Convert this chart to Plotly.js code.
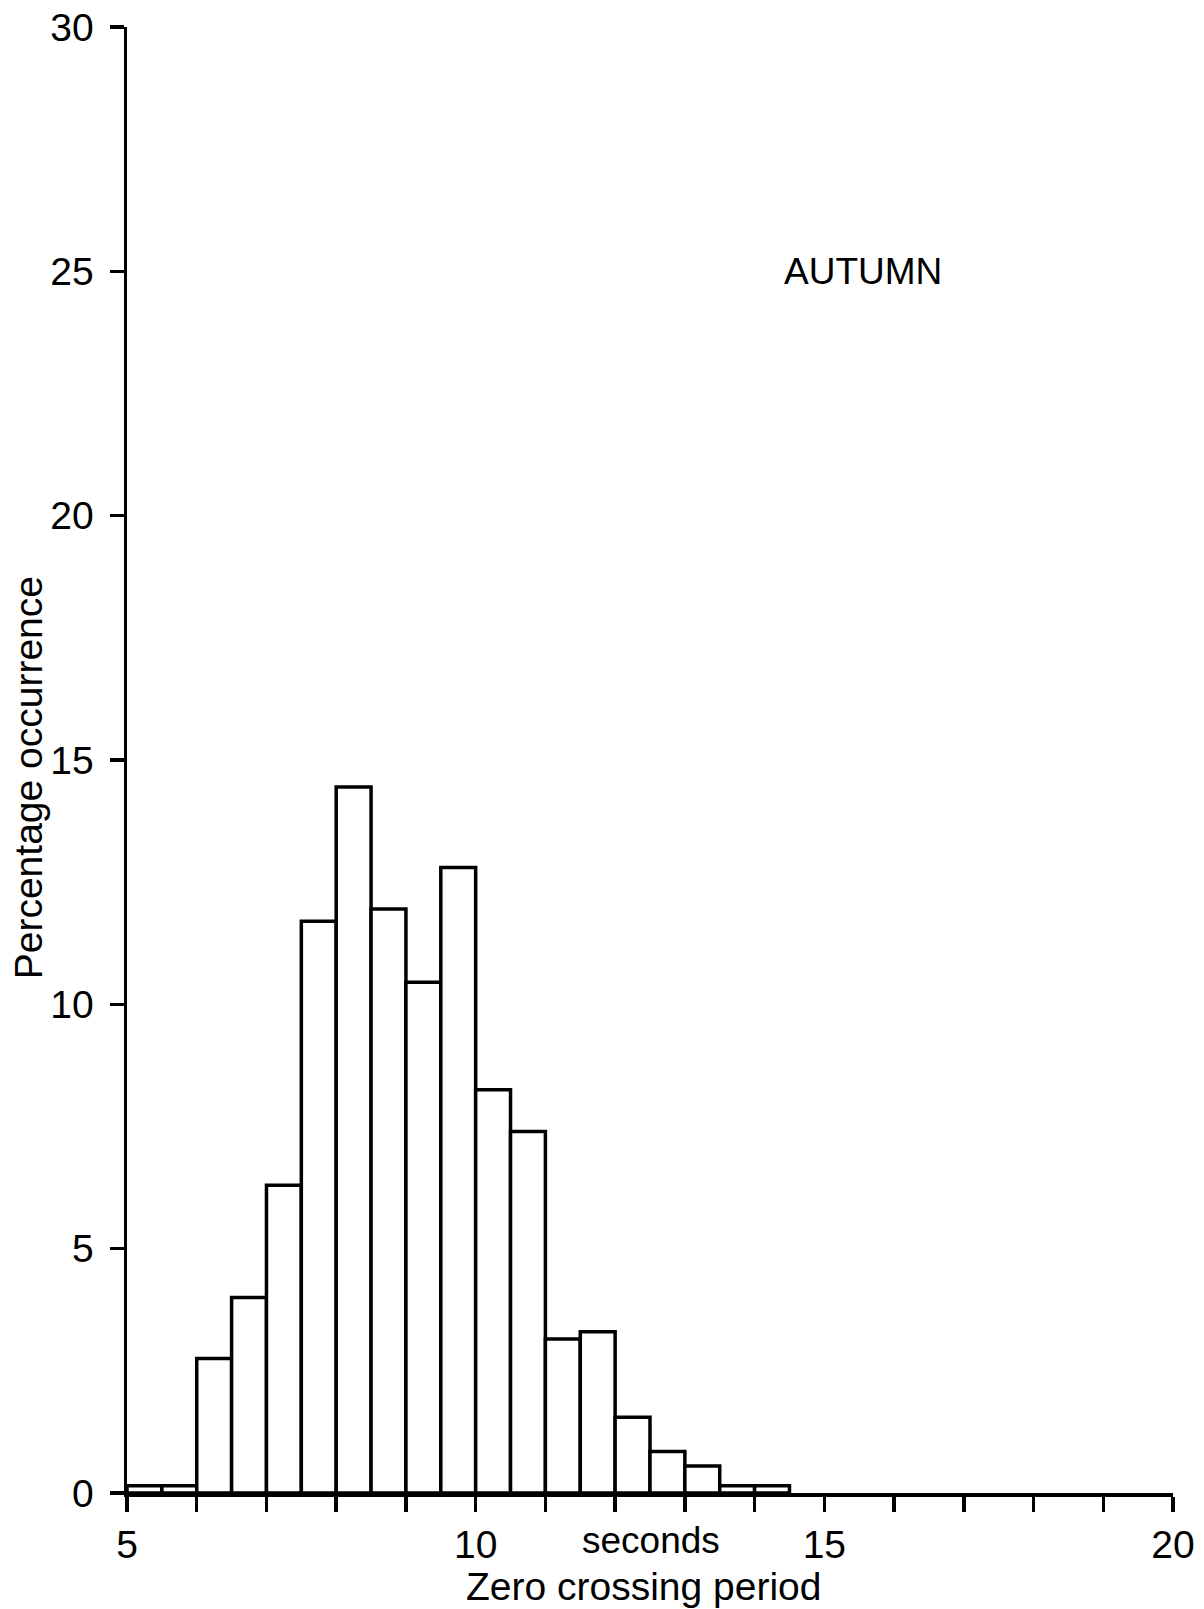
<!DOCTYPE html>
<html>
<head>
<meta charset="utf-8">
<script src="https://cdn.plot.ly/plotly-3.0.1.min.js"></script>
<style>
  html, body { margin: 0; padding: 0; background: #fff; }
  #chart { width: 1204px; height: 1609px; }
</style>
</head>
<body>
<div id="chart"></div>
<script>
// Histogram of zero crossing period, autumn season (0.5 s bins)
const binStarts = [5, 5.5, 6, 6.5, 7, 7.5, 8, 8.5, 9, 9.5, 10, 10.5, 11, 11.5, 12, 12.5, 13, 13.5, 14];
const percentOccurrence = [0.15, 0.15, 2.75, 4.0, 6.3, 11.7, 14.45, 11.95, 10.45, 12.8, 8.25, 7.4, 3.15, 3.3, 1.55, 0.85, 0.55, 0.15, 0.15];
const binWidth = 0.5;

const xTickVals = [5, 6, 7, 8, 9, 10, 11, 12, 13, 14, 15, 16, 17, 18, 19, 20];
const xTickText = ['5', '', '', '', '', '10', '', '', '', '', '15', '', '', '', '', '20'];
const yTickVals = [0, 5, 10, 15, 20, 25, 30];

const FONT = 'Liberation Sans, Arial, Helvetica, sans-serif';
const INK = '#000000';

const trace = {
  type: 'bar',
  x: binStarts.map(b => b + binWidth / 2),
  y: percentOccurrence,
  width: binWidth,
  marker: { color: '#ffffff', line: { color: INK, width: 3.5 } },
  hoverinfo: 'x+y'
};

const layout = {
  width: 1204,
  height: 1609,
  paper_bgcolor: '#ffffff',
  plot_bgcolor: '#ffffff',
  showlegend: false,
  margin: { l: 127, r: 31, t: 27, b: 116 },
  font: { family: FONT, color: INK, size: 39 },
  xaxis: {
    range: [5, 20],
    showgrid: false,
    zeroline: false,
    showline: true,
    linecolor: INK,
    linewidth: 3.5,
    ticks: 'outside',
    ticklen: 15,
    tickwidth: 3.5,
    tickcolor: INK,
    tickvals: xTickVals,
    ticktext: xTickText,
    ticklabelstandoff: 0,
    tickfont: { family: FONT, size: 39, color: INK },
    automargin: false
  },
  yaxis: {
    range: [0, 30],
    showgrid: false,
    zeroline: false,
    showline: true,
    linecolor: INK,
    linewidth: 3.5,
    ticks: 'outside',
    ticklen: 14,
    tickwidth: 3.5,
    tickcolor: INK,
    tickvals: yTickVals,
    ticktext: yTickVals.map(String),
    ticklabelstandoff: 8,
    tickfont: { family: FONT, size: 39, color: INK },
    automargin: false
  },
  annotations: [
    {
      // y-axis title
      text: 'Percentage occurrence', textangle: -90,
      xref: 'paper', yref: 'paper', x: -0.094, y: 0.488,
      xanchor: 'center', yanchor: 'middle', showarrow: false,
      font: { family: FONT, size: 39, color: INK }
    },
    {
      // x-axis title
      text: 'Zero crossing period',
      xref: 'x', yref: 'paper', x: 12.41, y: 0, yshift: -93,
      xanchor: 'center', yanchor: 'middle', showarrow: false,
      font: { family: FONT, size: 39, color: INK }
    },
    {
      text: 'seconds',
      xref: 'x', yref: 'paper', x: 12.52, y: 0, yshift: -47,
      xanchor: 'center', yanchor: 'middle', showarrow: false,
      font: { family: FONT, size: 37, color: INK }
    },
    {
      text: 'AUTUMN',
      xref: 'x', yref: 'y', x: 15.55, y: 25,
      xanchor: 'center', yanchor: 'middle', showarrow: false,
      font: { family: FONT, size: 37, color: INK }
    }
  ]
};

Plotly.newPlot('chart', [trace], layout, { displayModeBar: false, staticPlot: true });
</script>
</body>
</html>
